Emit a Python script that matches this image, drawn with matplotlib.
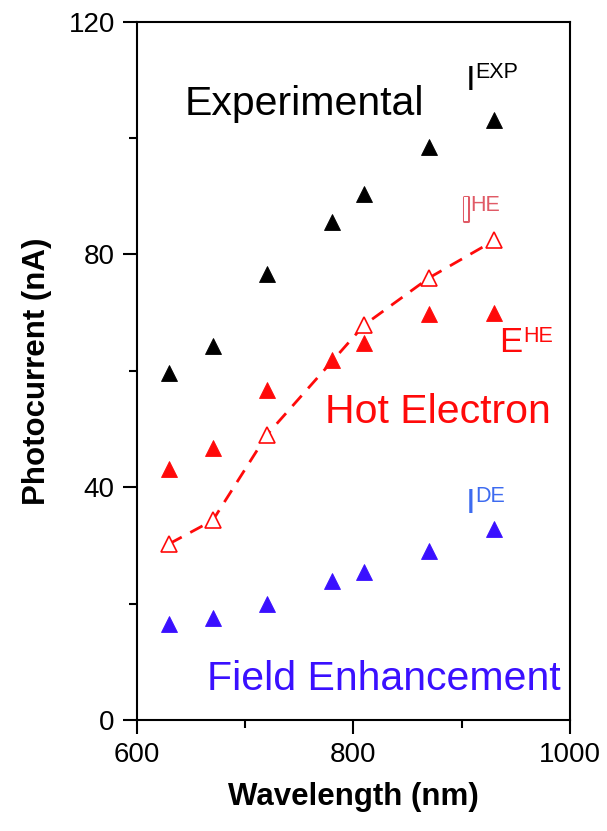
import numpy as np
import matplotlib
matplotlib.use("Agg")
import matplotlib.pyplot as plt
import matplotlib.patheffects as pe

plt.rcParams["font.family"] = ["Liberation Sans", "DejaVu Sans"]

# wavelengths (nm)
wl = [630, 670, 720, 780, 810, 870, 930]
wl_calc = [630, 670, 720, 810, 870, 930]

# photocurrent (nA)
i_exp = [59.6, 64.3, 76.6, 85.6, 90.4, 98.5, 103.1]
e_he = [43.2, 46.7, 56.7, 61.9, 64.7, 69.7, 70.0]
i_he = [30.3, 34.3, 49.0, 67.9, 76.0, 82.4]
i_de = [16.5, 17.5, 19.9, 23.8, 25.5, 29.1, 32.9]

RED = "#ff0a0a"
BLUE = "#3a10ff"
PINK = "#e05a66"
LBLUE = "#3d6bf0"

fig = plt.figure(figsize=(6.07, 8.31), dpi=100)
ax = fig.add_axes([0.2257, 0.1336, 0.939 - 0.2257, 0.9739 - 0.1336])

ms = 12
ax.plot(wl, i_exp, "^", color="black", ms=ms, mec="black", mew=0.6, zorder=3)
ax.plot(wl, e_he, "^", color=RED, ms=ms, mec=RED, mew=0.6, zorder=3)
ax.plot(wl_calc, i_he, "^", ls=(0, (5, 3.5)), lw=2.0, color=RED, ms=ms,
        mfc="white", mec=RED, mew=1.2, zorder=4)
ax.plot(wl, i_de, "^", color=BLUE, ms=ms, mec=BLUE, mew=0.6, zorder=3)

ax.set_xlim(600, 1000)
ax.set_ylim(0, 120)
ax.set_xticks([600, 800, 1000])
ax.set_xticks([700, 900], minor=True)
ax.set_yticks([0, 40, 80, 120])
ax.set_yticks([20, 60, 100], minor=True)
ax.tick_params(which="major", direction="out", length=10, width=1.5,
               labelsize=20, pad=6)
ax.tick_params(which="minor", direction="out", length=5.5, width=1.5)
for sp in ax.spines.values():
    sp.set_linewidth(1.5)

ax.set_xlabel("Wavelength (nm)", fontsize=22.5, fontweight="bold", labelpad=10)
ax.set_ylabel("Photocurrent (nA)", fontsize=22.5, fontweight="bold", labelpad=12)

# curve names
ax.text(644.3, 104.0, "Experimental", fontsize=29.5, color="black",
        ha="left", va="baseline")
ax.text(773.7, 51.0, "Hot Electron", fontsize=29.5, color=RED,
        ha="left", va="baseline")
ax.text(664.7, 5.15, "Field Enhancement", fontsize=29.5, color=BLUE,
        ha="left", va="baseline")


def sym(x, y, base, sup, color, sx, sy, hollow=False):
    t = ax.text(x, y, base, fontsize=25, color=color, ha="left", va="baseline")
    if hollow:
        t.set_color("white")
        t.set_path_effects([pe.withStroke(linewidth=2.2, foreground=color)])
    ax.text(sx, sy, sup, fontsize=15.5, color=color, ha="left", va="baseline")


sym(904.0, 108.2, "I", "EXP", "black", 912.2, 110.3)
sym(899.5, 85.7, "I", "HE", PINK, 907.6, 87.4, hollow=True)
sym(934.5, 63.2, "E", "HE", RED, 956.6, 64.9)
sym(904.0, 35.6, "I", "DE", LBLUE, 912.2, 37.5)

fig.savefig("out.png", dpi=100)
